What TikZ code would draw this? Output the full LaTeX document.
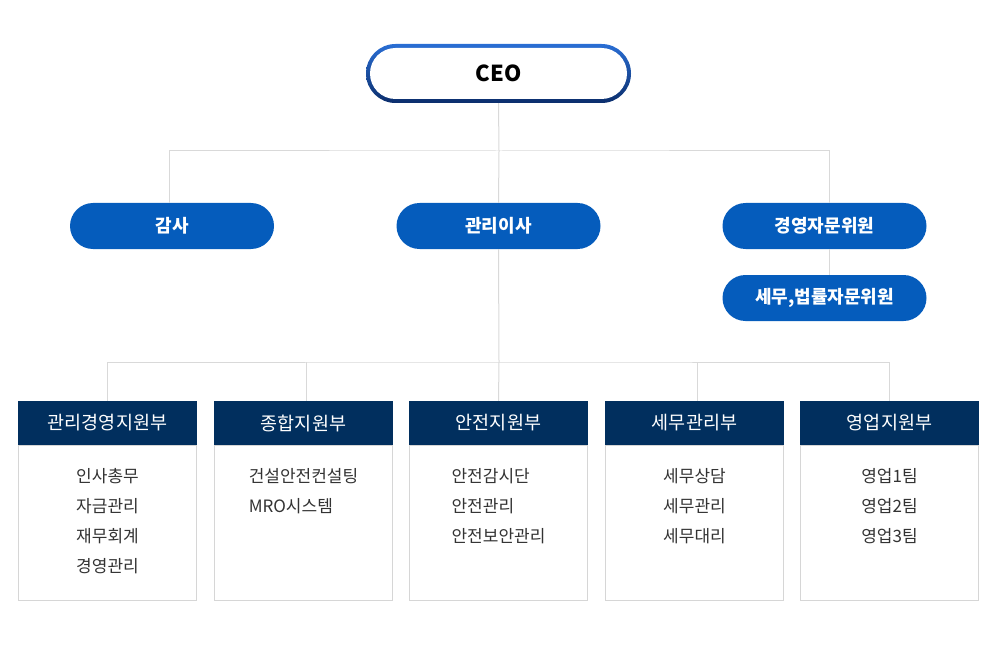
\documentclass[tikz,border=0pt]{standalone}
\usepackage{fontspec}
\setmainfont{Noto Sans CJK KR}
\usetikzlibrary{positioning,calc}
\definecolor{pillblue}{HTML}{055CBC}
\definecolor{navy}{HTML}{012F5E}
\definecolor{ceotop}{HTML}{2A6ED4}
\definecolor{ceobot}{HTML}{0B2E6C}
\definecolor{linegray}{HTML}{D9D9D9}
\definecolor{boxgray}{HTML}{D6D6D6}
\definecolor{txtgray}{HTML}{333333}
\tikzset{
  pill/.style={fill=pillblue, text=white, rounded corners=23pt, minimum width=204pt, minimum height=46pt, inner sep=0pt, font=\fontsize{18}{21}\selectfont\bfseries},
  dephead/.style={fill=navy, text=white, minimum width=179pt, minimum height=44pt, inner sep=0pt, font=\fontsize{18.5}{22}\selectfont},
  depbody/.style={draw=boxgray, line width=1pt, fill=white, minimum width=178pt, minimum height=155pt, inner sep=0pt, anchor=north},
  deptext/.style={text=txtgray, font=\fontsize{17}{30}\selectfont, align=left, anchor=north, inner sep=0pt},
  conn/.style={draw=linegray, line width=1pt},
}
\begin{document}
\begin{tikzpicture}[x=1pt,y=-1pt]
\useasboundingbox (0,0) rectangle (1000,652);
\coordinate (bus1) at (499,151);
\coordinate (bus2) at (499,362);
% CEO
\shade[top color=ceotop, bottom color=ceobot, rounded corners=29.5pt] (366,44) rectangle (631,103);
\node[fill=white, rounded corners=25.5pt, minimum width=257pt, minimum height=51pt, inner sep=0pt, font=\fontsize{22}{25}\selectfont\bfseries] (ceo) at (498.5,73.5) {CEO};
\node[pill] (gamsa) at (172,226) {감사};
\node[pill] (mgr) at (498.5,226) {관리이사};
\node[pill] (adv) at (824.5,226) {경영자문위원};
\node[pill] (tax) at (824.5,298) {세무,법률자문위원};
% departments
\foreach \i/\x/\t in {1/107.5/관리경영지원부, 2/303.5/종합지원부, 3/498.5/안전지원부, 4/694.5/세무관리부, 5/889.5/영업지원부}{
  \node[dephead] (h\i) at (\x,423) {\t};
  \node[depbody] (b\i) at (h\i.south) {};
}
\node[deptext] (t1) at ($(h1.south)+(0,23)$) {인사총무\\자금관리\\재무회계\\경영관리};
\node[deptext] (t2) at ($(h2.south)+(0,23)$) {건설안전컨설팅\\MRO시스템};
\node[deptext] (t3) at ($(h3.south)+(0,23)$) {안전감시단\\안전관리\\안전보안관리};
\node[deptext] (t4) at ($(h4.south)+(0,23)$) {세무상담\\세무관리\\세무대리};
\node[deptext] (t5) at ($(h5.south)+(0,23)$) {영업1팀\\영업2팀\\영업3팀};
% connectors
\coordinate (gN) at ($(gamsa.north)+(-3,0)$);
\coordinate (aN) at ($(adv.north)+(4.5,0)$);
\coordinate (aS) at ($(adv.south)+(4.5,0)$);
\coordinate (tN) at ($(tax.north)+(4.5,0)$);
\coordinate (d2) at ($(h2.north)+(3,0)$);
\coordinate (d4) at ($(h4.north)+(2.5,0)$);
\draw[conn] (ceo.south) ++(0,4) -- (bus1);
\draw[conn] (gN) |- (bus1) -| (aN);
\draw[conn] (bus1) -- (mgr.north);
\draw[conn] (mgr.south) -- (bus2);
\draw[conn] (aS) -- (tN);
\draw[conn] (h1.north) |- (bus2) -| (h5.north);
\draw[conn] (d2) -- (d2 |- bus2);
\draw[conn] (d4) -- (d4 |- bus2);
\draw[conn] (bus2) -- (h3.north);
\end{tikzpicture}
\end{document}
